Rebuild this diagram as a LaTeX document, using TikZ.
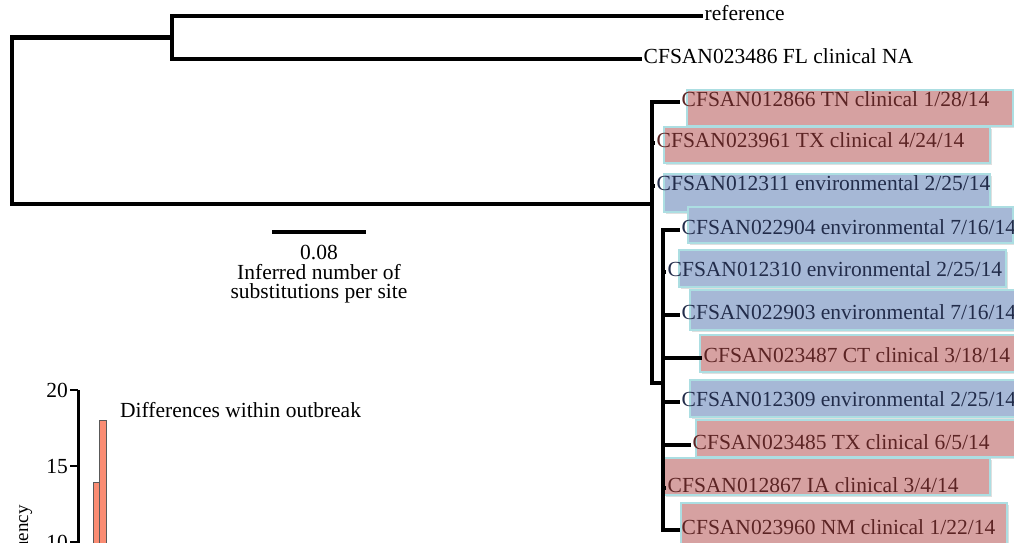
\documentclass[tikz,border=0pt]{standalone}
\usepackage{fontspec}
\setmainfont{Liberation Serif}
\usetikzlibrary{positioning,calc,shadows}
\definecolor{clinfill}{RGB}{214,161,161}
\definecolor{envfill}{RGB}{166,184,214}
\definecolor{boxedge}{RGB}{172,222,226}
\definecolor{clintext}{RGB}{92,36,36}
\definecolor{envtext}{RGB}{34,44,74}
\definecolor{barfill}{RGB}{250,140,115}

\begin{document}
\begin{tikzpicture}[x=1pt,y=-1pt,font=\fontsize{21.5}{19.5}\selectfont]
            \tikzstyle{branch}=[line width=4.2pt]
            \tikzstyle{leaf}=[anchor=west, inner xsep=1.5pt, inner ysep=0pt,
            text height=0.85em, text depth=0pt]
            \tikzstyle{clin}=[leaf, text=clintext]
            \tikzstyle{env}=[leaf, text=envtext]
            \tikzstyle{hl}=[draw=boxedge, line width=1.2pt,
            drop shadow={opacity=0.25, shadow xshift=1.5pt, shadow yshift=-1.5pt}]
            \useasboundingbox (0,0) rectangle (1014,542);
            \clip (0,0) rectangle (1014,542);
            % highlight boxes
            \draw[hl, fill=clinfill] (687,90) rectangle (1013,126);
            \draw[hl, fill=clinfill] (664,127) rectangle (990,163);
            \draw[hl, fill=envfill] (664,174) rectangle (990,212);
            \draw[hl, fill=envfill] (688,207) rectangle (1013,243);
            \draw[hl, fill=envfill] (679,250) rectangle (1006,287);
            \draw[hl, fill=envfill] (690,290) rectangle (1016,330);
            \draw[hl, fill=clinfill] (700,335) rectangle (1016,372);
            \draw[hl, fill=envfill] (690,380) rectangle (1016,417);
            \draw[hl, fill=clinfill] (696,420) rectangle (1016,457);
            \draw[hl, fill=clinfill] (664,458) rectangle (990,495);
            \draw[hl, fill=clinfill] (681,503) rectangle (1007,548);
            % tree
            \coordinate (root) at (12,121);
            \coordinate (n1) at (172,37.5);
            \coordinate (A) at (652,204);
            \coordinate (B) at (663,383);
            \node[leaf] (ref) at (703,16) {reference};
            \node[leaf] (fl) at (642,59) {CFSAN023486 FL clinical NA};
            \node[clin] (l1) at (680,102) {CFSAN012866 TN clinical 1/28/14};
            \node[clin] (l2) at (655,143) {CFSAN023961 TX clinical 4/24/14};
            \node[env] (l3) at (655,186) {CFSAN012311 environmental 2/25/14};
            \node[env] (l4) at (680,230) {CFSAN022904 environmental 7/16/14};
            \node[env] (l5) at (666,272) {CFSAN012310 environmental 2/25/14};
            \node[env] (l6) at (680,315) {CFSAN022903 environmental 7/16/14};
            \node[clin] (l7) at (702,358) {CFSAN023487 CT clinical 3/18/14};
            \node[env] (l8) at (680,402) {CFSAN012309 environmental 2/25/14};
            \node[clin] (l9) at (691,445) {CFSAN023485 TX clinical 6/5/14};
            \node[clin] (l10) at (666,488) {CFSAN012867 IA clinical 3/4/14};
            \node[clin] (l11) at (680,530) {CFSAN023960 NM clinical 1/22/14};
            \draw[branch] (root) |- (n1);
            \draw[branch] (root) |- (A);
            \draw[branch] (n1) |- (ref.west);
            \draw[branch] (n1) |- (fl.west);
            \foreach \l in {l1,l2,l3} \draw[branch] (A) |- (\l.west);
            \draw[branch] (A) |- (B);
            \foreach \l in {l4,l5,l6,l7,l8,l9,l10,l11} \draw[branch] (B) |- (\l.west);
            % scale bar
            \coordinate (sb1) at (272,232);
            \coordinate (sb2) at (366,232);
            \draw[branch] (sb1) -- (sb2);
            \node[anchor=north, inner sep=0pt, align=center] (sclab) at (319,245)
            {0.08\\Inferred number of\\substitutions per site};
            % histogram
            \coordinate (ax0) at (78,390);
            \coordinate (ax1) at (78,560);
            \draw[line width=3pt] (ax0) -- (ax1);
            \foreach \v/\y in {20/390,15/466,10/542} {
            \draw[line width=2pt] (70,\y) -- (78,\y);
            \node[anchor=base east, inner sep=0pt] (tk\v) at (68,\y+7) {\v};
            }
            \draw[draw=black!65, line width=0.8pt, fill=barfill] (93,482) rectangle (100,560);
            \draw[draw=black!65, line width=0.8pt, fill=barfill] (99.5,420) rectangle (106,560);
            \node[anchor=base west, inner sep=0pt] (diff) at (120,417) {Differences within outbreak};
            \node[rotate=90, anchor=base east, inner sep=0pt, font=\fontsize{19}{19}\selectfont]
            (freq) at (28,505) {Frequency};
        \end{tikzpicture}
\end{document}
